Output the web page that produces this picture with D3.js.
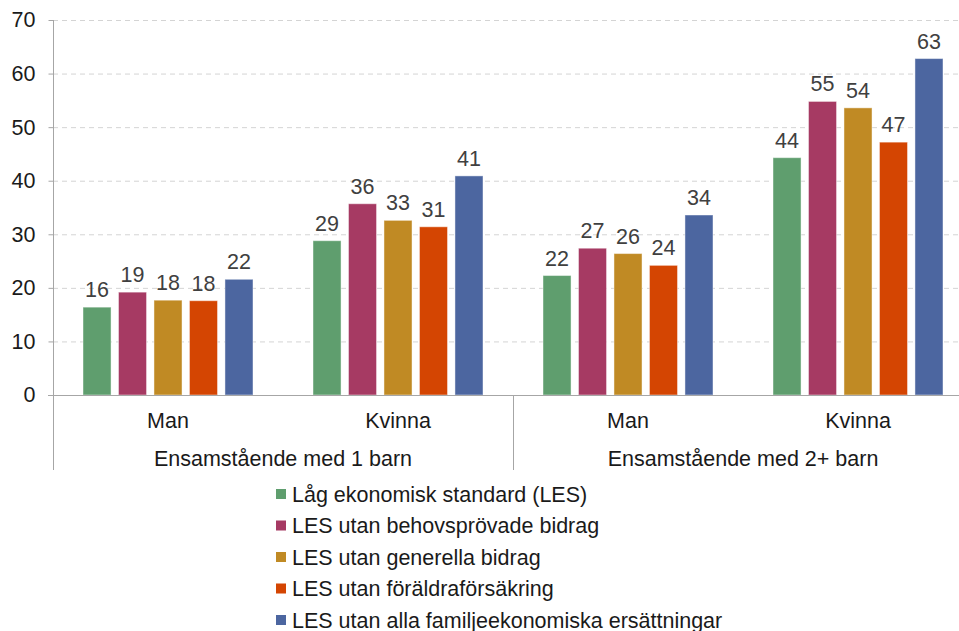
<!DOCTYPE html>
<html>
<head>
<meta charset="utf-8">
<script src="https://cdn.jsdelivr.net/npm/d3@7"></script>
<style>
  body { margin: 0; background: #fff; }
  svg { display: block; font-family: "Liberation Sans", Arial, sans-serif; }
</style>
</head>
<body>
<div id="chart"></div>
<script>
// data
const groups = ["Ensamstående med 1 barn", "Ensamstående med 2+ barn"]
const sexes = ["Man", "Kvinna"]
const seriesNames = [
  "Låg ekonomisk standard (LES)",
  "LES utan behovsprövade bidrag",
  "LES utan generella bidrag",
  "LES utan föräldraförsäkring",
  "LES utan alla familjeekonomiska ersättningar"
]
const seriesColors = ["#5f9e6e", "#a63a63", "#c08a24", "#d44502", "#4c66a0"]
// one array per category (group / sex), values in series order
const g1Man = [16.4, 19.2, 17.7, 17.6, 21.6]
const g1Kvinna = [28.8, 35.7, 32.6, 31.4, 40.9]
const g2Man = [22.3, 27.4, 26.4, 24.2, 33.6]
const g2Kvinna = [44.3, 54.8, 53.6, 47.2, 62.8]
const yTicks = [0, 10, 20, 30, 40, 50, 60, 70]

const width = 959, height = 631
const plotLeft = 53, plotRight = 973, plotTop = 20, plotBottom = 395
const fontSize = 21.5

const svg = d3.select('#chart').append('svg')
  .attr('width', width)
  .attr('height', height)

// categories
const cats = []
const catValues = [g1Man, g1Kvinna, g2Man, g2Kvinna]
groups.forEach((g, gi) => {
  sexes.forEach((s, si) => {
    cats.push({ key: g + '|' + s, group: g, sex: s, values: catValues[gi * 2 + si] })
  })
})

const x0 = d3.scaleBand().domain(cats.map(d => d.key)).range([plotLeft, plotRight])
const x1 = d3.scaleBand().domain(d3.range(seriesNames.length))
  .range([30, x0.bandwidth() - 30]).paddingInner(0.21)
const y = d3.scaleLinear().domain([0, 70]).range([plotBottom, plotTop])

// gridlines
svg.append('g')
  .selectAll('line')
  .data(yTicks.filter(t => t > 0))
  .enter()
  .append('line')
  .attr('x1', plotLeft).attr('x2', width)
  .attr('y1', d => y(d) + 0.5).attr('y2', d => y(d) + 0.5)
  .attr('stroke', '#d4d4d4')
  .attr('stroke-dasharray', '5 4')

// y axis
const yAxis = svg.append('g')
  .attr('transform', `translate(${plotLeft + 0.5},0)`)
  .call(d3.axisLeft(y).tickValues(yTicks).tickSize(5).tickPadding(13))
yAxis.select('.domain').remove()
yAxis.selectAll('line').attr('stroke', '#a6a6a6')
yAxis.selectAll('text')
  .attr('font-size', fontSize)
  .attr('fill', '#1a1a1a')
  .attr('font-family', '"Liberation Sans", Arial, sans-serif')

// vertical axis line extends down through category area
svg.append('line')
  .attr('x1', plotLeft + 0.5).attr('x2', plotLeft + 0.5)
  .attr('y1', plotTop).attr('y2', 470)
  .attr('stroke', '#a6a6a6')

// bars
const catG = svg.append('g')
  .selectAll('g')
  .data(cats)
  .enter()
  .append('g')
  .attr('transform', d => `translate(${x0(d.key)},0)`)

catG.selectAll('rect')
  .data(d => d.values)
  .enter()
  .append('rect')
  .attr('x', (d, i) => x1(i))
  .attr('y', d => y(d))
  .attr('width', x1.bandwidth())
  .attr('height', d => y(0) - y(d))
  .attr('fill', (d, i) => seriesColors[i])
  .attr('stroke', 'rgba(255,255,255,0.45)')
  .attr('stroke-width', 1)

catG.selectAll('text')
  .data(d => d.values)
  .enter()
  .append('text')
  .attr('x', (d, i) => x1(i) + x1.bandwidth() / 2)
  .attr('y', d => y(d) - 10)
  .attr('text-anchor', 'middle')
  .attr('font-size', fontSize)
  .attr('fill', '#404040')
  .text(d => d3.format('.0f')(d))

// baseline
svg.append('line')
  .attr('x1', plotLeft - 5).attr('x2', width)
  .attr('y1', plotBottom + 0.5).attr('y2', plotBottom + 0.5)
  .attr('stroke', '#a6a6a6')

// category labels
svg.append('g')
  .selectAll('text')
  .data(cats)
  .enter()
  .append('text')
  .attr('x', d => x0(d.key) + x0.bandwidth() / 2)
  .attr('y', 428)
  .attr('text-anchor', 'middle')
  .attr('font-size', fontSize)
  .attr('fill', '#1a1a1a')
  .text(d => d.sex)

// group labels and separator
const groupW = (plotRight - plotLeft) / groups.length
svg.append('g')
  .selectAll('text')
  .data(groups)
  .enter()
  .append('text')
  .attr('x', (d, i) => plotLeft + groupW * i + groupW / 2)
  .attr('y', 466)
  .attr('text-anchor', 'middle')
  .attr('font-size', fontSize)
  .attr('fill', '#1a1a1a')
  .text(d => d)

svg.append('line')
  .attr('x1', plotLeft + groupW + 0.5).attr('x2', plotLeft + groupW + 0.5)
  .attr('y1', plotBottom).attr('y2', 470)
  .attr('stroke', '#a6a6a6')

// legend
const legend = svg.append('g')
  .selectAll('g')
  .data(seriesNames)
  .enter()
  .append('g')
  .attr('transform', (d, i) => `translate(276,${494 + i * 31.5})`)

legend.append('rect')
  .attr('x', 0).attr('y', -5)
  .attr('width', 10).attr('height', 10)
  .attr('fill', (d, i) => seriesColors[i])

legend.append('text')
  .attr('x', 16)
  .attr('y', 7.5)
  .attr('font-size', fontSize)
  .attr('fill', '#1a1a1a')
  .text(d => d)
</script>
</body>
</html>
